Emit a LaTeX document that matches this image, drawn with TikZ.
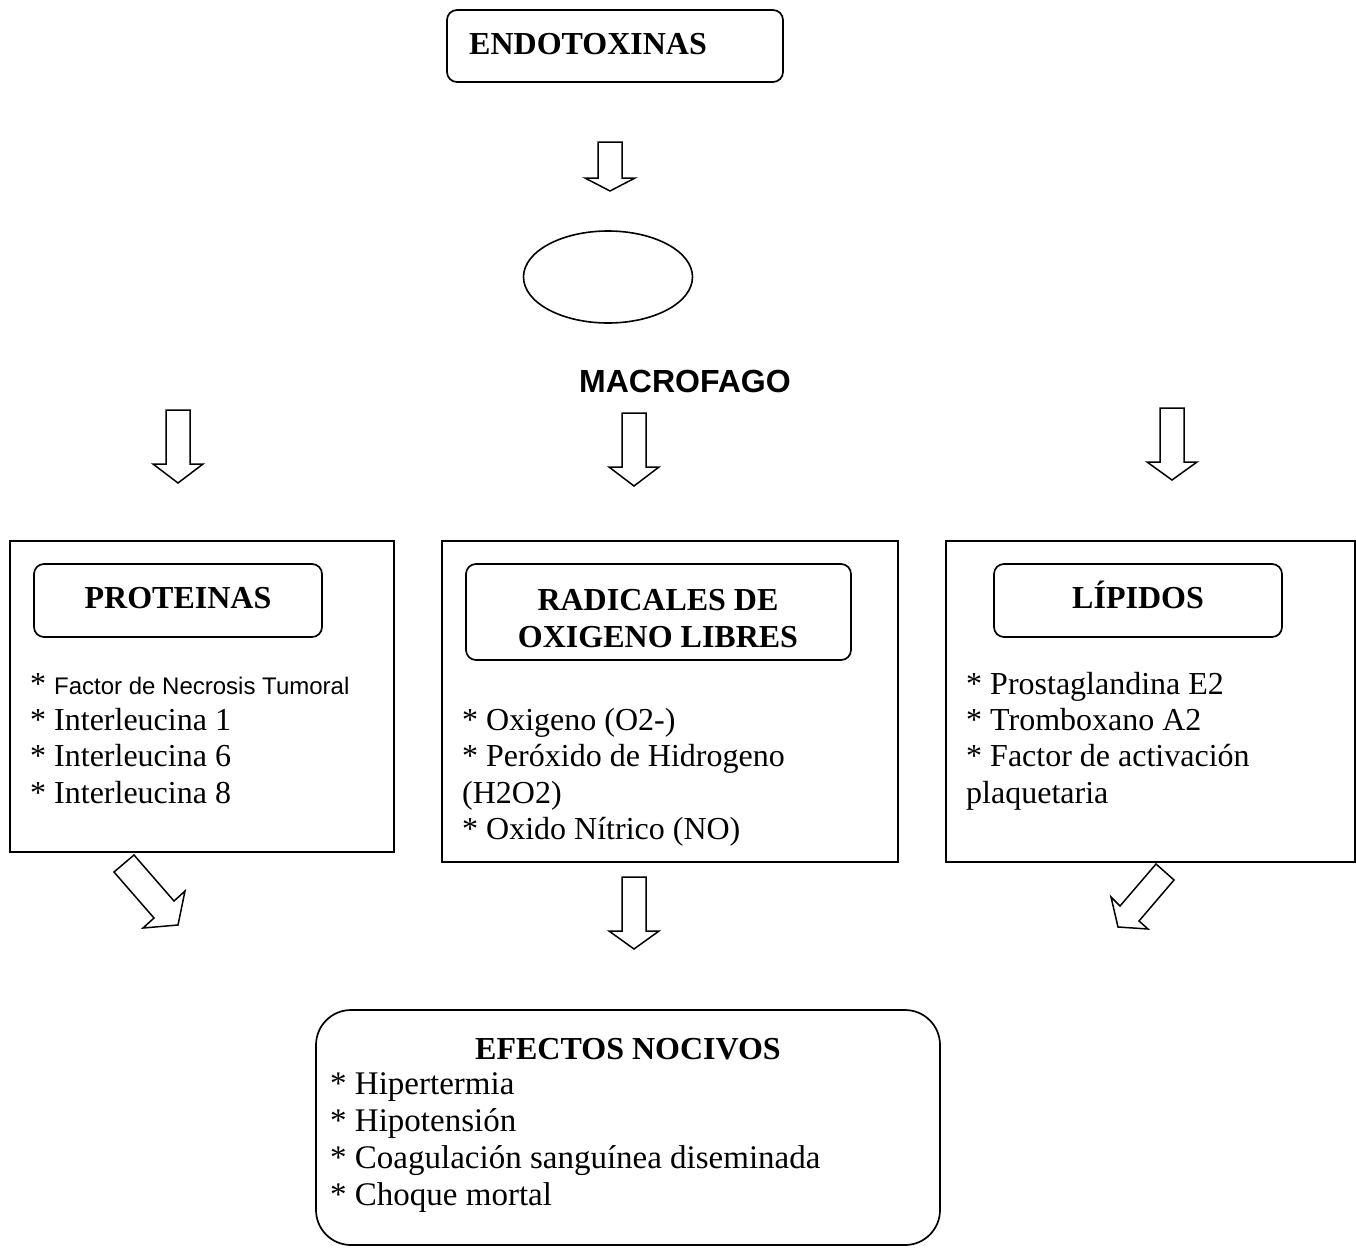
\documentclass[tikz,border=0pt]{standalone}
\usepackage{fontspec}
\setmainfont{Liberation Serif}
\newfontfamily\arialf{Liberation Sans}
\usetikzlibrary{shapes.geometric}
\newcommand\dnarrow[4]{%
  \draw[blockarrow] ({#1-12},#2) -- ({#1+12},#2) -- ({#1+12},#3) -- ({#1+25},#3)
    -- (#1,#4) -- ({#1-25},#3) -- ({#1-12},#3) -- cycle;}
\begin{document}
\begin{tikzpicture}[x=1pt,y=-1pt,
  sz/.style 2 args={minimum width=#1pt,minimum height=#2pt},
  plainbox/.style={draw,line width=1.7pt,inner sep=0pt,rectangle},
  roundbox/.style={draw,line width=1.7pt,inner sep=0pt,rectangle,rounded corners=10pt},
  biground/.style={draw,line width=1.7pt,inner sep=0pt,rectangle,rounded corners=35pt},
  oval/.style={draw,line width=1.6pt,ellipse,inner sep=0pt},
  blockarrow/.style={draw,line width=1.5pt,fill=white,line join=miter},
  ttl/.style={inner sep=0pt,font=\fontsize{32}{37}\selectfont\bfseries,anchor=base},
  item/.style={inner sep=0pt,font=\fontsize{32}{37}\selectfont,anchor=base west},
  bitem/.style={inner sep=0pt,font=\fontsize{33}{37}\selectfont,anchor=base west}]
\useasboundingbox (0,0) rectangle (1356,1247);

% top
\node[roundbox,sz={336}{72}] (endo) at (615,46) {};
\node[ttl,anchor=base west] (endotxt) at (469,55) {ENDOTOXINAS};
\dnarrow{610}{142}{178}{191}
\node[oval,sz={169}{92}] (macro) at (608,277) {};
\node[inner sep=0pt,anchor=base,font=\fontsize{32}{37}\arialf\bfseries] (macrotxt) at (685,392) {MACROFAGO};

\dnarrow{178}{410}{464}{483}
\dnarrow{634}{413}{467}{486}
\dnarrow{1172}{408}{462}{480}

% left column
\node[plainbox,sz={384}{311}] (pbox) at (202,696.5) {};
\node[roundbox,sz={288}{73}] (ptit) at (178,600.5) {};
\node[ttl] (ptxt) at (178,608) {PROTEINAS};
\node[item] (p1) at (30,694) {* {\arialf\fontsize{24}{28}\selectfont Factor de Necrosis Tumoral}};
\node[item] (p2) at (30,730) {* Interleucina 1};
\node[item] (p3) at (30,766.5) {* Interleucina 6};
\node[item] (p4) at (30,803) {* Interleucina 8};

% middle column
\node[plainbox,sz={456}{321}] (rbox) at (670,701.5) {};
\node[roundbox,sz={385}{96}] (rtit) at (658.5,612) {};
\node[ttl] (rtxt1) at (658,610) {RADICALES DE};
\node[ttl] (rtxt2) at (658,647) {OXIGENO LIBRES};
\node[item] (r1) at (462,730) {* Oxigeno (O2-)};
\node[item] (r2) at (462,766.5) {* Peróxido de Hidrogeno};
\node[item] (r3) at (462,803) {(H2O2)};
\node[item] (r4) at (462,839) {* Oxido Nítrico (NO)};

% right column
\node[plainbox,sz={409}{321}] (lbox) at (1150.5,701.5) {};
\node[roundbox,sz={288}{73}] (ltit) at (1138,600.5) {};
\node[ttl] (ltxt) at (1138,608) {LÍPIDOS};
\node[item] (l1) at (966,694) {* Prostaglandina E2};
\node[item] (l2) at (966,730) {* Tromboxano A2};
\node[item] (l3) at (966,766.5) {* Factor de activación};
\node[item] (l4) at (966,803) {plaquetaria};

% lower arrows
\draw[blockarrow] (134,855) -- (114,872) -- (154,918) -- (143,928) -- (178,925) -- (185,891) -- (174,901) -- cycle;
\dnarrow{634}{877}{931}{949}
\draw[blockarrow] (1156,864) -- (1174,880) -- (1139,921) -- (1148,929) -- (1118,927) -- (1111,897) -- (1120,906) -- cycle;

% bottom
\node[biground,sz={624}{235}] (efbox) at (628,1127.5) {};
\node[ttl] (eftxt) at (628,1059) {EFECTOS NOCIVOS};
\node[bitem] (e1) at (330,1094) {* Hipertermia};
\node[bitem] (e2) at (330,1131) {* Hipotensión};
\node[bitem] (e3) at (330,1168) {* Coagulación sanguínea diseminada};
\node[bitem] (e4) at (330,1205) {* Choque mortal};
\end{tikzpicture}
\end{document}
